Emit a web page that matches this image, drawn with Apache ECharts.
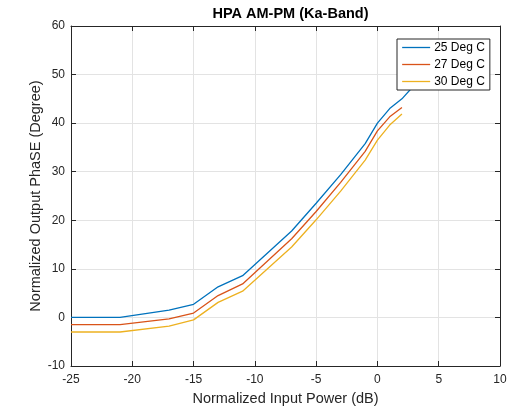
<!DOCTYPE html>
<html>
<head>
<meta charset="utf-8">
<script src="https://cdn.jsdelivr.net/npm/echarts@6/dist/echarts.min.js"></script>
<style>
html,body{margin:0;padding:0;background:#fff;}
#chart{width:509px;height:409px;}
</style>
</head>
<body>
<div id="chart"></div>
<script>
const chartTitle = 'HPA AM-PM (Ka-Band)';
const xAxisName = 'Normalized Input Power (dB)';
const yAxisName = 'Normalized Output PhaSE (Degree)';
const seriesNames = ['25 Deg C', '27 Deg C', '30 Deg C'];

const inputPower25 = [-25, -21, -17, -15, -13, -11, -7, -5, -3, -1, 0, 1, 2, 3, 4];
const phase25 = [0, 0, 1.5, 2.7, 6.3, 8.6, 17.8, 23.5, 29.4, 35.8, 40, 43, 45, 47.8, 50];

const inputPower27 = [-25, -21, -17, -15, -13, -11, -7, -5, -3, -1, 0, 1, 2];
const phase27 = [-1.5, -1.5, -0.3, 0.9, 4.5, 6.9, 16.2, 21.8, 27.8, 34.2, 38.4, 41.3, 43.2];

const inputPower30 = [-25, -21, -17, -15, -13, -11, -7, -5, -3, -1, 0, 1, 2];
const phase30 = [-3, -3, -1.8, -0.5, 3.1, 5.4, 14.5, 20.1, 26, 32.4, 36.5, 39.6, 41.9];

const colors = ['#0072BD', '#D95319', '#EDB120'];
const axisColor = '#262626';
const gridColor = '#e3e3e3';
const font = 'Liberation Sans, Arial, Helvetica, sans-serif';

function pairs(xs, ys) { return xs.map((x, i) => [x, ys[i]]); }

const chart = echarts.init(document.getElementById('chart'), null, {renderer: 'canvas'});

const baseAxis = {
  axisLine: {show: true, onZero: false, lineStyle: {color: axisColor, width: 1}},
  axisTick: {show: true, inside: true, length: 5, lineStyle: {color: axisColor}},
  minorTick: {show: false}
};

chart.setOption({
  animation: false,
  backgroundColor: '#fff',
  title: {
    text: chartTitle,
    left: 285.5, top: 1, textAlign: 'center',
    textStyle: {fontFamily: font, fontSize: 14.5, fontWeight: 'bold', color: '#000'}
  },
  grid: {left: 71, right: 9, top: 26, bottom: 43, containLabel: false, outerBoundsMode: 'none'},
  legend: {
    orient: 'vertical', left: 397, top: 39,
    backgroundColor: '#fff', borderColor: '#262626', borderWidth: 1,
    padding: [2.5, 5, 2.5, 4.5],
    itemWidth: 28, itemHeight: 12, itemGap: 5,
    itemStyle: {opacity: 0},
    lineStyle: {width: 1.3},
    textStyle: {fontFamily: font, fontSize: 12, color: '#000', padding: [0, 0, 0, -1]},
    data: seriesNames
  },
  xAxis: [
    Object.assign({}, baseAxis, {
      type: 'value', min: -25, max: 10, interval: 5, position: 'bottom',
      name: xAxisName, nameLocation: 'middle', nameGap: 25, nameMoveOverlap: false,
      nameTextStyle: {fontFamily: font, fontSize: 14.5, color: axisColor},
      axisLabel: {fontFamily: font, fontSize: 12, color: axisColor, margin: 8},
      splitLine: {show: true, lineStyle: {color: gridColor, width: 1}}
    }),
    Object.assign({}, baseAxis, {
      type: 'value', min: -25, max: 10, interval: 5, position: 'top',
      axisLabel: {show: false}, splitLine: {show: false}
    })
  ],
  yAxis: [
    Object.assign({}, baseAxis, {
      type: 'value', min: -10, max: 60, interval: 10, position: 'left',
      name: yAxisName, nameLocation: 'middle', nameGap: 27.5, nameMoveOverlap: false,
      nameTextStyle: {fontFamily: font, fontSize: 14.5, color: axisColor},
      axisLabel: {fontFamily: font, fontSize: 12, color: axisColor, margin: 6},
      splitLine: {show: true, lineStyle: {color: gridColor, width: 1}}
    }),
    Object.assign({}, baseAxis, {
      type: 'value', min: -10, max: 60, interval: 10, position: 'right',
      axisLabel: {show: false}, splitLine: {show: false}
    })
  ],
  series: [
    {name: seriesNames[0], type: 'line', data: pairs(inputPower25, phase25), symbol: 'none',
     lineStyle: {color: colors[0], width: 1.3}, itemStyle: {color: colors[0]}},
    {name: seriesNames[1], type: 'line', data: pairs(inputPower27, phase27), symbol: 'none',
     lineStyle: {color: colors[1], width: 1.3}, itemStyle: {color: colors[1]}},
    {name: seriesNames[2], type: 'line', data: pairs(inputPower30, phase30), symbol: 'none',
     lineStyle: {color: colors[2], width: 1.3}, itemStyle: {color: colors[2]}}
  ]
});
</script>
</body>
</html>
